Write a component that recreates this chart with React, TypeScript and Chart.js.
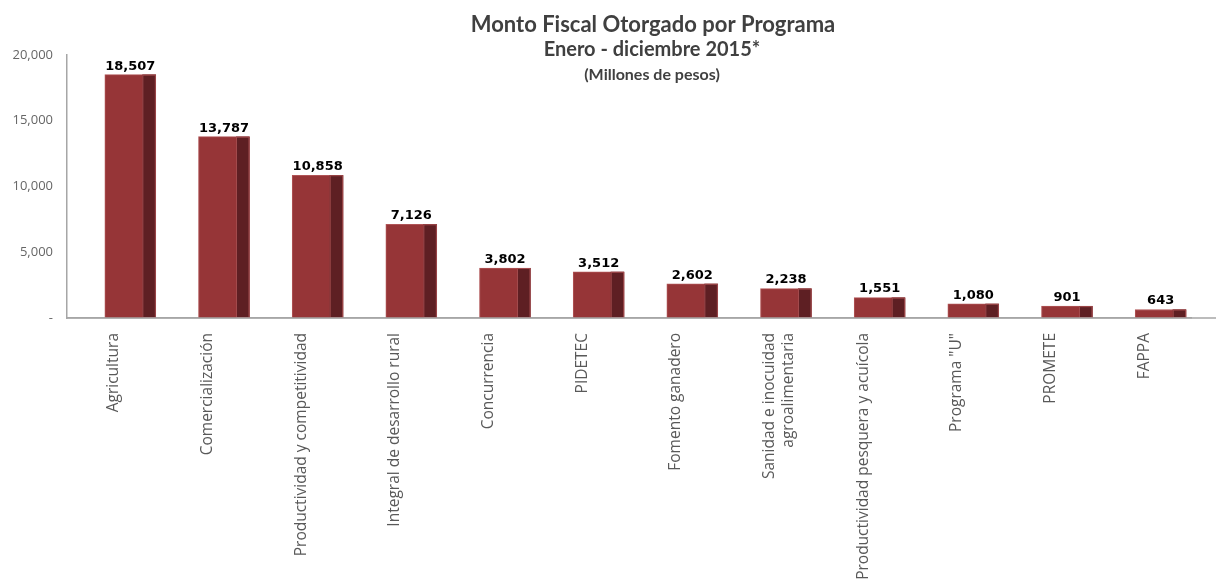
import React, { useEffect, useRef } from "react";
import { Chart, registerables } from "chart.js";

Chart.register(...registerables);

const categories: (string | string[])[] = [
  "Agricultura",
  "Comercialización",
  "Productividad y competitividad",
  "Integral de desarrollo rural",
  "Concurrencia",
  "PIDETEC",
  "Fomento ganadero",
  ["Sanidad e inocuidad", "agroalimentaria"],
  "Productividad pesquera y acuícola",
  'Programa "U"',
  "PROMETE",
  "FAPPA",
];

const montos = [18507, 13787, 10858, 7126, 3802, 3512, 2602, 2238, 1551, 1080, 901, 643];

const yTickValues = [0, 5000, 10000, 15000, 20000];
const yTickLabels = ["-", "5,000", "10,000", "15,000", "20,000"];

const titleLines = [
  "Monto Fiscal Otorgado por Programa",
  "Enero - diciembre 2015*",
  "(Millones de pesos)",
];

const BAR_SHIFT = 16.5;
const SIDE_W = 13.5;

const barsPlugin = {
  id: "bars3d",
  beforeDatasetsDraw(chart: any) {
    chart.ctx.save();
    chart.ctx.translate(BAR_SHIFT, 0);
  },
  afterDatasetsDraw(chart: any) {
    const ctx = chart.ctx;
    const meta = chart.getDatasetMeta(0);
    meta.data.forEach((bar: any, i: number) => {
      const right = bar.x + bar.width / 2;
      const top = bar.y;
      const h = bar.base - bar.y;
      ctx.fillStyle = "#5e1f23";
      ctx.fillRect(right - SIDE_W, top, SIDE_W, h);
      ctx.strokeStyle = "#a24a4c";
      ctx.lineWidth = 1;
      ctx.strokeRect(right - SIDE_W + 0.5, top + 0.5, SIDE_W - 1, h - 1);
      ctx.fillStyle = "#000000";
      ctx.font = "bold 13px 'DejaVu Sans'";
      ctx.textAlign = "center";
      ctx.textBaseline = "bottom";
      ctx.fillText(montos[i].toLocaleString("en-US"), bar.x, top - 2);
    });
    ctx.restore();
    const y = chart.scales.y.getPixelForValue(0);
    ctx.save();
    ctx.strokeStyle = "#a6a6a6";
    ctx.lineWidth = 1.5;
    ctx.beginPath();
    ctx.moveTo(chart.chartArea.left, y);
    ctx.lineTo(chart.width, y);
    ctx.stroke();
    ctx.restore();
  },
};

const titlePlugin = {
  id: "customTitle",
  afterDraw(chart: any) {
    const ctx = chart.ctx;
    ctx.save();
    ctx.fillStyle = "#404040";
    ctx.textAlign = "center";
    ctx.textBaseline = "middle";
    ctx.font = "bold 22px Lato";
    ctx.fillText(titleLines[0], 645, 17);
    ctx.font = "bold 20px Lato";
    ctx.fillText(titleLines[1], 644, 42);
    ctx.font = "bold 16px Lato";
    ctx.fillText(titleLines[2], 644, 67);
    ctx.restore();
  },
};

export default function App() {
  const ref = useRef<HTMLCanvasElement | null>(null);
  useEffect(() => {
    if (!ref.current) return;
    const chart = new Chart(ref.current, {
      type: "bar",
      data: {
        labels: categories as any,
        datasets: [
          {
            data: montos,
            backgroundColor: "#963537",
            borderColor: "#b05456",
            borderWidth: 1,
            barThickness: 51,
          },
        ],
      },
      options: {
        animation: false,
        responsive: true,
        maintainAspectRatio: false,
        layout: { padding: { top: 47, right: 25, left: 0, bottom: 0 } },
        plugins: {
          legend: { display: false },
          title: { display: false },
          tooltip: { enabled: false },
        },
        scales: {
          x: {
            grid: { display: false },
            border: { display: true, color: "#a6a6a6", width: 1.5 },
            ticks: {
              maxRotation: 90,
              minRotation: 90,
              autoSkip: false,
              padding: 7,
              color: "#595959",
              font: { family: "'Open Sans'", size: 15.5, lineHeight: 1.25 },
            },
            afterFit(scale: any) {
              scale.height = 266;
            },
          },
          y: {
            min: 0,
            max: 20000,
            grid: { display: false, drawTicks: false },
            border: { display: true, color: "#a6a6a6", width: 1.5 },
            afterBuildTicks(scale: any) {
              scale.ticks = yTickValues.map((v) => ({ value: v }));
            },
            ticks: {
              padding: 14,
              color: "#666666",
              font: { family: "'Open Sans'", size: 13 },
              callback: (v: any) => {
                const idx = yTickValues.indexOf(Number(v));
                return idx >= 0 ? yTickLabels[idx] : "";
              },
            },
            afterFit(scale: any) {
              scale.width = 59;
            },
          },
        },
      },
      plugins: [barsPlugin, titlePlugin],
    });
    return () => chart.destroy();
  }, []);
  return (
    <div style={{ width: 1208, height: 576, position: "relative" }}>
      <canvas ref={ref} />
    </div>
  );
}
